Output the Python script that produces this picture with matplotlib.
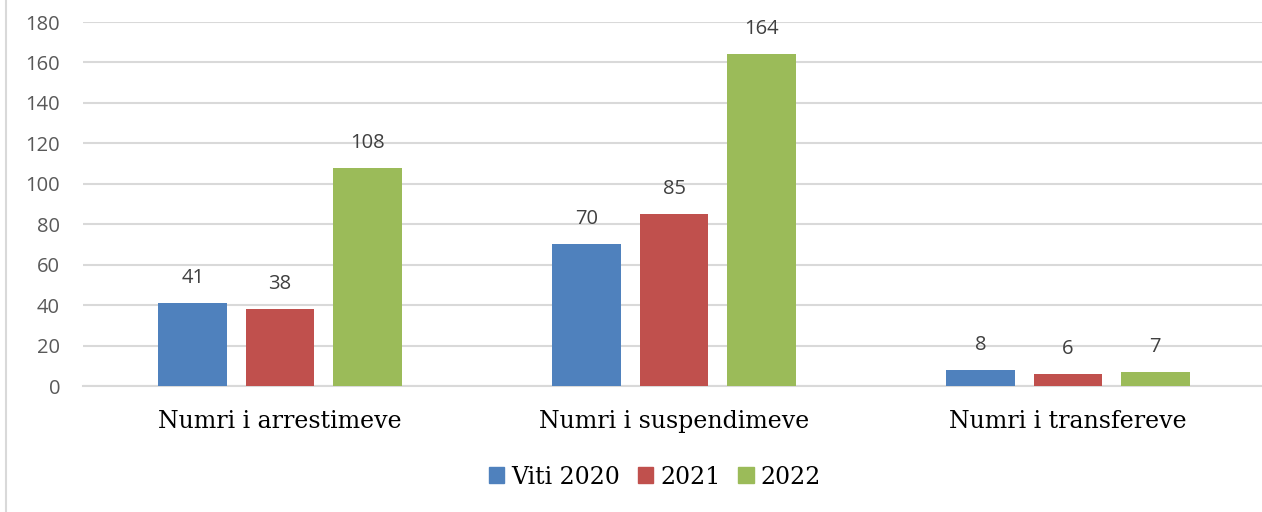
import numpy as np
import matplotlib.pyplot as plt
from matplotlib.patches import Patch

categories = ['Numri i arrestimeve', 'Numri i suspendimeve', 'Numri i transfereve']
series_names = ['Viti 2020', '2021', '2022']
v2020 = [41, 70, 8]
v2021 = [38, 85, 6]
v2022 = [108, 164, 7]
yticks = [0, 20, 40, 60, 80, 100, 120, 140, 160, 180]

colors = ['#4F81BD', '#C0504D', '#9BBB59']
sans = 'Open Sans'
serif = 'DejaVu Serif'

W, H = 1262, 512
fig = plt.figure(figsize=(W / 100, H / 100), dpi=100)
ax = fig.add_axes([83 / W, 126 / H, (W - 83) / W, 364 / H])

x = np.arange(len(categories))
width = 0.175
step = 0.221
for i, (vals, c) in enumerate(zip([v2020, v2021, v2022], colors)):
    pos = x + (i - 1) * step
    bars = ax.bar(pos, vals, width, color=c, zorder=3)
    for b, v in zip(bars, vals):
        ax.annotate(str(v), (b.get_x() + b.get_width() / 2, v),
                    xytext=(0, 15), textcoords='offset pixels',
                    ha='center', va='bottom', fontsize=14.5,
                    family=sans, color='#404040')

ax.set_xlim(-0.5, 2.5 - 3 / 394)
ax.set_ylim(0, 180)
ax.set_yticks(yticks)
ax.set_yticklabels([str(t) for t in yticks], family=sans, fontsize=14.5, color='#595959')
ax.set_xticks(x)
ax.set_xticklabels(categories, family=serif, fontsize=17, color='black')
ax.tick_params(axis='both', length=0)
ax.tick_params(axis='y', pad=16.5)
ax.tick_params(axis='x', pad=17)
ax.grid(axis='y', color='#D9D9D9', linewidth=1.5, zorder=0)
for s in ['top', 'right', 'left']:
    ax.spines[s].set_visible(False)
ax.spines['bottom'].set_color('#D9D9D9')
ax.spines['bottom'].set_linewidth(1.5)

handles = [Patch(color=c) for c in colors]
fig.legend(handles, series_names, loc='center', bbox_to_anchor=(655 / W, 1 - 477 / H),
           ncol=3, frameon=False, prop={'family': serif, 'size': 17},
           handlelength=0.65, handleheight=0.65, handletextpad=0.3, columnspacing=0.75)

fig.add_artist(plt.Line2D([6 / W, 6 / W], [0, 1], color='#D9D9D9', linewidth=1.5))

fig.savefig('out.png', dpi=100)
